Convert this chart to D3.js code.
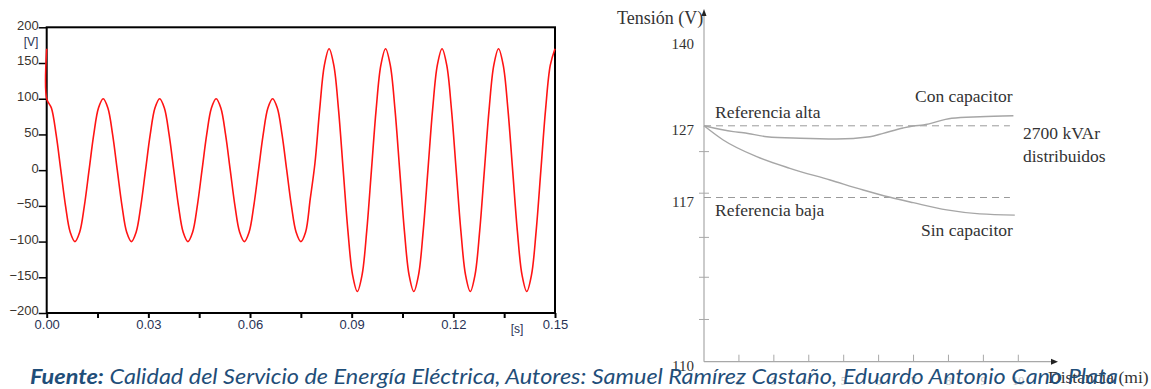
<!DOCTYPE html>
<html>
<head>
<meta charset="utf-8">
<script src="https://cdn.jsdelivr.net/npm/d3@7"></script>
<style>
  body { margin: 0; background: #fff; }
  svg { display: block; }
</style>
</head>
<body>
<script>
// ---- left chart: voltage waveform ----
// samples every 1/720 s (12 per 60 Hz cycle)
var sampleStep = 1 / 720;
var waveValues = [
  100, 87, 50, 0, -50, -87, -100, -87, -50, 0, 50, 87,
  100, 87, 50, 0, -50, -87, -100, -87, -50, 0, 50, 87,
  100, 87, 50, 0, -50, -87, -100, -87, -50, 0, 50, 87,
  100, 87, 50, 0, -50, -87, -100, -87, -50, 0, 50, 87,
  100, 87, 50, 0, -50, -87, -100, -87, -40, 10, 85, 147,
  170, 147, 85, 0, -85, -147, -170, -147, -85, 0, 85, 147,
  170, 147, 85, 0, -85, -147, -170, -147, -85, 0, 85, 147,
  170, 147, 85, 0, -85, -147, -170, -147, -85, 0, 85, 147,
  170, 147, 85, 0, -85, -147, -170, -147, -85, 0, 85, 147,
  170
];
var waveStart = 170;   // spike at t = 0
var yTicksLeft = [-200, -150, -100, -50, 0, 50, 100, 150, 200];
var xTicksLeft = [0, 0.015, 0.03, 0.045, 0.06, 0.075, 0.09, 0.105, 0.12, 0.135, 0.15];
var xLabelsLeft = [0, 0.03, 0.06, 0.09, 0.12, 0.15];

// ---- right chart: voltage along the feeder ----
var conDist = [1, 1.84, 2.13, 2.80, 3.75, 4.80, 5.75, 6.13, 6.70, 6.99, 7.28, 8.09, 8.90, 9.86];
var conVolt = [127, 126.18, 126.04, 125.48, 125.26, 125.16, 125.48, 125.95, 126.69, 126.97, 127.12, 128.14, 128.38, 128.53];
var sinDist = [1, 1.55, 2.51, 3.46, 4.61, 5.56, 6.33, 6.99, 7.95, 8.90, 9.90];
var sinVolt = [127, 125.02, 122.69, 121.07, 119.44, 118.05, 117.03, 116.78, 116.47, 116.30, 116.25];
var refHigh = 127, refLow = 117, refEnd = 9.76;
var yLabelsRight = [110, 117, 127, 140];
var yMinorRight = [111.8, 113.6, 115.3, 117.6, 123.4];
var xTicksRight = [2, 3, 4, 5, 6, 7, 8, 9, 10];

var svg = d3.select("body").append("svg")
    .attr("width", 1151)
    .attr("height", 389);

// ================= left chart =================
var xL = d3.scaleLinear().domain([0, 0.15]).range([46.7, 555]);
var yL = d3.scaleLinear().domain([-200, 200]).range([313, 27.3]);
var sans = "'Liberation Sans', Arial, sans-serif";

var left = svg.append("g");

left.append("rect")
    .attr("x", xL(0))
    .attr("y", yL(200))
    .attr("width", xL(0.15) - xL(0))
    .attr("height", yL(-200) - yL(200))
    .style("fill", "none")
    .style("stroke", "#000")
    .style("stroke-width", "2px");

var yAxisL = left.append("g")
    .attr("transform", "translate(" + xL(0) + ",0)")
    .call(d3.axisLeft(yL).tickValues(yTicksLeft).tickSize(8).tickPadding(0).tickFormat(d3.format("d")));
yAxisL.select(".domain").remove();
yAxisL.selectAll("line").style("stroke", "#000").style("stroke-width", "1.5px");
yAxisL.selectAll("text")
    .attr("dy", "0.15em")
    .style("font-family", sans)
    .style("font-size", "13px")
    .style("fill", "#3a342e");

var xAxisL = left.append("g")
    .attr("transform", "translate(0," + yL(-200) + ")")
    .call(d3.axisBottom(xL).tickValues(xTicksLeft).tickSize(5).tickPadding(2)
        .tickFormat(function(d) {
            var hit = xLabelsLeft.some(function(v) { return Math.abs(v - d) < 1e-9; });
            return hit ? d3.format(".2f")(d) : "";
        }));
xAxisL.select(".domain").remove();
xAxisL.selectAll("line").style("stroke", "#000").style("stroke-width", "2px");
xAxisL.selectAll("text")
    .style("font-family", sans)
    .style("font-size", "13px")
    .style("fill", "#283254");

left.append("text")
    .attr("x", 31).attr("y", 46)
    .attr("text-anchor", "middle")
    .style("font-family", sans)
    .style("font-size", "12px")
    .style("fill", "#283254")
    .text("[V]");

left.append("text")
    .attr("x", 517).attr("y", 333)
    .attr("text-anchor", "middle")
    .style("font-family", sans)
    .style("font-size", "12px")
    .style("fill", "#283254")
    .text("[s]");

var wave = [{ t: 0, v: waveStart }].concat(waveValues.map(function(v, i) {
    return { t: i * sampleStep, v: v };
}));

var waveLine = d3.line()
    .x(function(d) { return xL(d.t); })
    .y(function(d) { return yL(d.v); })
    .curve(d3.curveCatmullRom);

left.append("path")
    .datum(wave)
    .attr("d", waveLine)
    .style("fill", "none")
    .style("stroke", "#ff1414")
    .style("stroke-width", "1.6px");

// ================= right chart =================
var xR = d3.scaleLinear().domain([1, 10]).range([704, 1018.3]);
// schematic axis: spacing is not uniform between the labelled values
var yR = d3.scaleLinear().domain([110, 117, 127, 140]).range([361.7, 197.5, 125.8, 40]);

var right = svg.append("g");
var serif = "'Liberation Serif', 'Times New Roman', serif";
var axisGray = "#a8a8a8";

// axes
right.append("line")
    .attr("x1", xR(1)).attr("y1", yR(110))
    .attr("x2", xR(1)).attr("y2", 12)
    .style("stroke", axisGray).style("stroke-width", "1.2px");
right.append("line")
    .attr("x1", xR(1)).attr("y1", yR(110))
    .attr("x2", 1054).attr("y2", yR(110))
    .style("stroke", axisGray).style("stroke-width", "1.2px");
right.append("path")
    .attr("d", "M" + (xR(1) - 2.5) + ",16L" + xR(1) + ",9L" + (xR(1) + 2.5) + ",16Z")
    .style("fill", "#222");
right.append("path")
    .attr("d", "M1051," + (yR(110) - 3) + "L1058," + yR(110) + "L1051," + (yR(110) + 3) + "Z")
    .style("fill", "#222");

right.selectAll(".ytick")
    .data(yMinorRight)
    .enter().append("line")
    .attr("class", "ytick")
    .attr("x1", xR(1) - 5).attr("x2", xR(1) + 5)
    .attr("y1", function(d) { return yR(d); })
    .attr("y2", function(d) { return yR(d); })
    .style("stroke", axisGray).style("stroke-width", "1px");

right.selectAll(".xtick")
    .data(xTicksRight)
    .enter().append("line")
    .attr("class", "xtick")
    .attr("x1", function(d) { return xR(d); })
    .attr("x2", function(d) { return xR(d); })
    .attr("y1", yR(110) - 7).attr("y2", yR(110))
    .style("stroke", axisGray).style("stroke-width", "1px");

right.selectAll(".xlab")
    .data(xTicksRight)
    .enter().append("text")
    .attr("class", "xlab")
    .attr("x", function(d) { return xR(d); })
    .attr("y", 385)
    .attr("text-anchor", "middle")
    .style("font-family", serif)
    .style("font-size", "12px")
    .style("fill", "#c4c4c4")
    .text(function(d) { return d; });

right.selectAll(".ylab")
    .data(yLabelsRight)
    .enter().append("text")
    .attr("class", "ylab")
    .attr("x", 694)
    .attr("y", function(d) { return yR(d) + 4; })
    .attr("dy", "0.35em")
    .attr("text-anchor", "end")
    .style("font-family", serif)
    .style("font-size", "15px")
    .style("fill", "#333")
    .text(function(d) { return d; });

// reference lines
[refHigh, refLow].forEach(function(v) {
    right.append("line")
        .attr("x1", xR(1)).attr("x2", xR(refEnd))
        .attr("y1", yR(v)).attr("y2", yR(v))
        .style("stroke", "#9a9a9a")
        .style("stroke-width", "1px")
        .style("stroke-dasharray", "7,5");
});

var profile = d3.line()
    .x(function(d) { return xR(d[0]); })
    .y(function(d) { return yR(d[1]); })
    .curve(d3.curveMonotoneX);

right.append("path")
    .datum(d3.zip(conDist, conVolt))
    .attr("d", profile)
    .style("fill", "none").style("stroke", "#a6a6a6").style("stroke-width", "1.4px");

right.append("path")
    .datum(d3.zip(sinDist, sinVolt))
    .attr("d", profile)
    .style("fill", "none").style("stroke", "#a6a6a6").style("stroke-width", "1.4px");

function label(x, y, txt, size) {
    right.append("text")
        .attr("x", x).attr("y", y)
        .style("font-family", serif)
        .style("font-size", (size || 17.5) + "px")
        .style("fill", "#333")
        .text(txt);
}
label(617, 24, "Tensión (V)", 18);
label(715, 118, "Referencia alta");
label(715, 216, "Referencia baja");
label(915, 102, "Con capacitor");
label(921, 236, "Sin capacitor");
label(1023, 139, "2700 kVAr");
label(1023, 162, "distribuidos");
label(1048, 383, "Distancia (mi)");

// ================= caption =================
var cap = svg.append("text")
    .attr("x", 30).attr("y", 384)
    .attr("textLength", 1088)
    .attr("lengthAdjust", "spacingAndGlyphs")
    .style("font-family", "Lato, 'Open Sans', sans-serif")
    .style("font-style", "italic")
    .style("font-size", "20.5px")
    .style("fill", "#1f4e79");
cap.append("tspan").style("font-weight", "bold").text("Fuente:");
cap.append("tspan").text(" Calidad del Servicio de Energía Eléctrica, Autores: Samuel Ramírez Castaño, Eduardo Antonio Cano Plata");
</script>
</body>
</html>
